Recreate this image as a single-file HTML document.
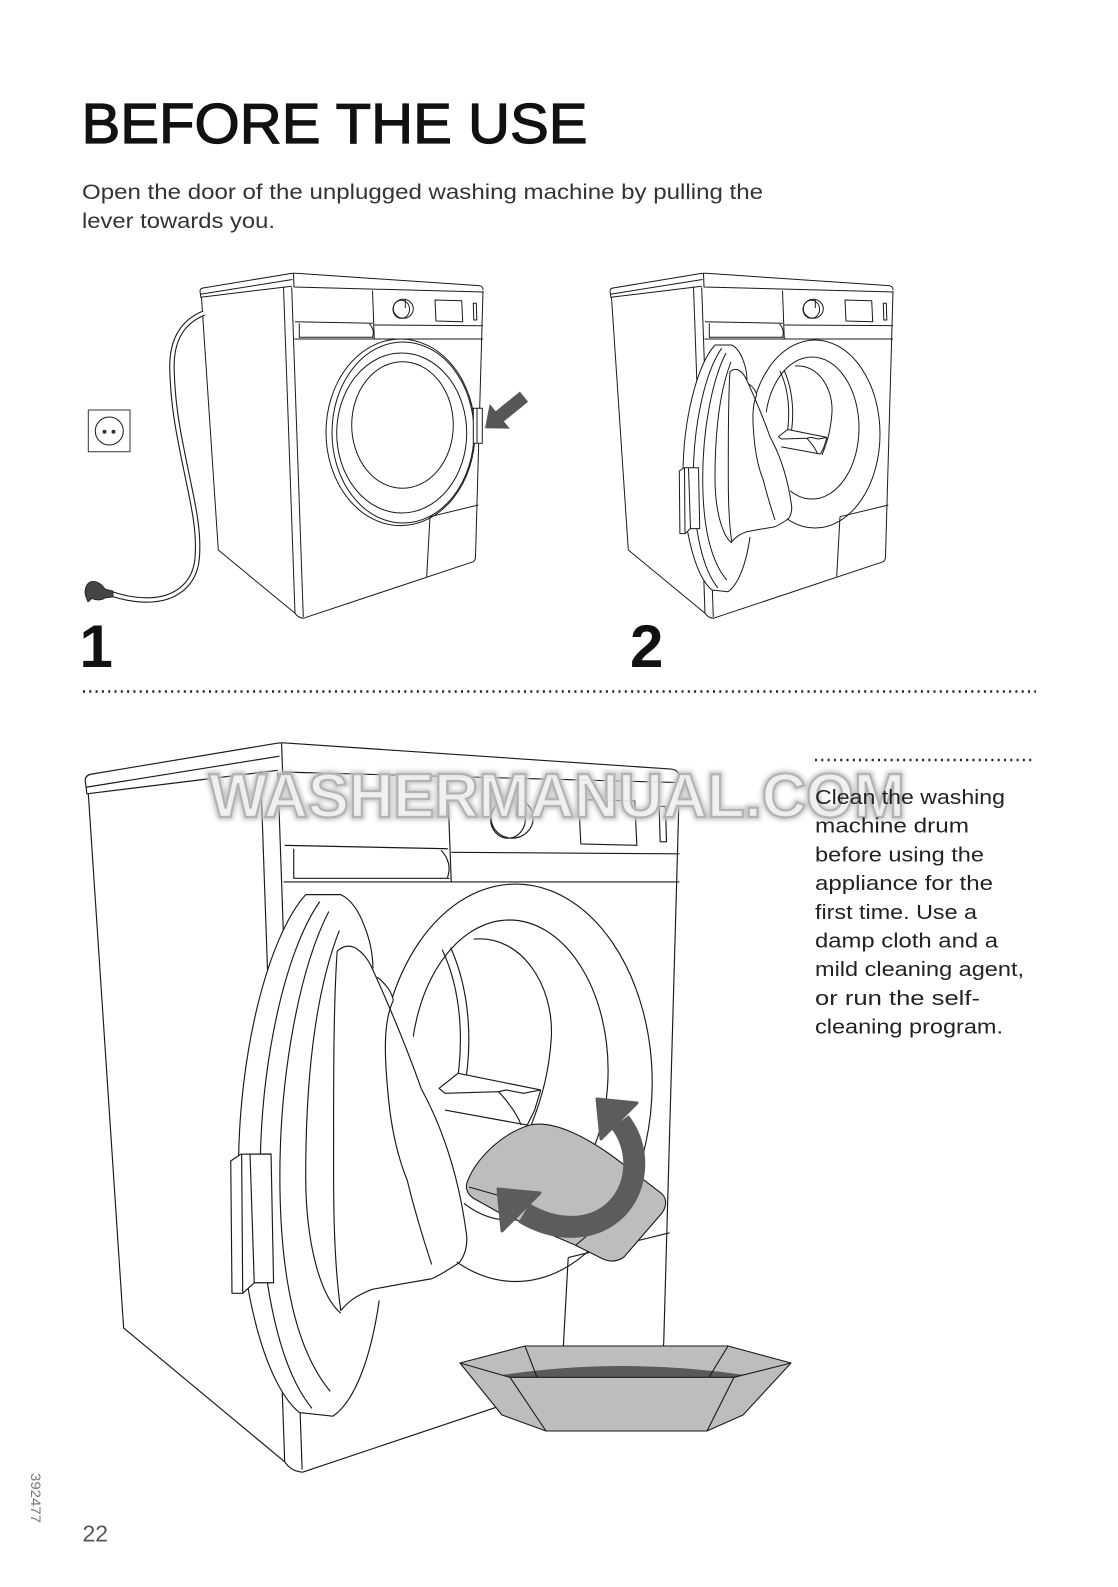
<!DOCTYPE html>
<html><head><meta charset="utf-8"><style>html,body{margin:0;padding:0;background:#fff}svg{display:block}</style></head>
<body>
<svg xmlns="http://www.w3.org/2000/svg" xmlns:xlink="http://www.w3.org/1999/xlink" width="1118" height="1587" viewBox="0 0 1118 1587" font-family="'Liberation Sans', sans-serif">
<rect width="1118" height="1587" fill="#fff"/>
<defs>
<filter id="wmb" x="-5%" y="-30%" width="110%" height="160%"><feGaussianBlur stdDeviation="2"/></filter>
<g id="body">
<path d="M610,291 Q610,288.5 613,288 L700,273.6 Q703,273 706,273.3 L889,285.6 Q893,286 893,290"/>
<path d="M610,291 L610.8,297.3 L701.7,286.2"/>
<path d="M610.4,294.2 L702.5,279.5"/>
<path d="M703.5,273.5 L704,287 L893,292"/>
<path d="M611.5,297.5 L628.3,550 L705,613.3"/>
<path d="M693.5,286.5 L705,613.3 Q708,617.8 713.5,618.2 L883,561.8 Q885.5,560.5 885.5,556.5 L893,291"/>
<path d="M701.7,287.3 L713.3,617"/>
<path d="M705,321.7 L782.7,323.3"/>
<path d="M709.3,323.3 L709.3,337.3 L783.5,337.3"/>
<path d="M779.5,324 Q785,330 782.5,337"/>
<path d="M782.5,290.5 L784.3,339"/>
<path d="M784.3,325 L893,325.7"/>
<path d="M704.5,339 L893,339"/>
<ellipse cx="813.3" cy="308.8" rx="10" ry="9.5"/>
<ellipse cx="811.3" cy="309.3" rx="8.3" ry="9"/>
<path d="M815.3,299.5 L815.3,308"/>
<path d="M845,300 L871.7,300.7 L872.7,321.7 L846,321 Z"/>
<path d="M883.3,303.3 L886.3,303.3 L886.8,320 L883.8,320 Z"/>
<path d="M840,516.7 L888.3,505 M840,516.7 L836.7,576.7"/>
</g>
<g id="open">
<ellipse cx="815" cy="434" rx="65" ry="94"/>
<ellipse cx="812" cy="428" rx="47" ry="71"/>
<path d="M795,366 C818,364 833,388 832,412 C831,428 828,440 822,455"/>
<path d="M780,371 C789,390 791,415 786,440"/>
<path d="M784,370 C793,390 795,415 790,440"/>
<path fill="#fff" d="M787.6,429.5 L826.9,437.4 L825,446 L820.5,454 L781.3,446.9 L778.5,436.6 Z" stroke="none"/>
<path d="M787.6,429.5 L826.9,437.4 M787.6,429.5 L778.5,436.6 L781.3,439 L806.8,438.2 L810.5,437.4 L818.7,439 L826.9,437.4 M781.3,446.9 L820.5,454 M806.8,438.2 L810.3,442.1 L813.9,446.9 L816.6,451.6 L817.5,454 M826.9,437.4 L824,447 L820.5,454"/>
<path fill="#fff" stroke="none" d="M715,345 C697,365 683,420 683,475 C683,535 697,578 712,590 L728,591.7 C738,585 746,565 750,537 L746,531.7 L775,526.7 C783,524 789,520 791.7,507 C791,480 780,440 770,420 C763,405 755,390 747,380 C746,372 742,360 740,355 C737,350 734,346 731.7,345 Z"/>
<path d="M715,345 C697,365 683,420 683,475 C683,535 697,578 712,590 L728,591.7 C738,585 746,565 750,537"/>
<path d="M715,345 L731.7,345 C736,347 740,352 743,360 C745,365 747,372 747,380"/>
<path d="M721.7,348.3 C705,372 693.3,425 693.3,478 C693.3,530 703,570 718,588"/>
<path d="M726,353 C712,380 702.7,430 702.7,478 C702.7,525 710,560 726.7,580"/>
<path d="M731,362 C720,390 715,430 715,478 C715,510 722,535 731.7,543"/>
<path d="M730,371.7 C728,400 728.3,440 728.3,480 C728.3,510 730,530 731.7,541.7 C735,538 738,535 746.7,531.7 L760,529.3 L775,526.7"/>
<path d="M730,371.7 C733,369 736,369 738.3,370 C742,372 745,376 746.7,380"/>
<path d="M746.7,380 C755,398 764,420 770,436.7 C780,455 788,478 791.7,506.7 C792,514 789,519 786.7,520 C782,523 779,525 775,526.7"/>
<path d="M756.7,395 C752,405 752,420 755,446.7 C757,462 760,472 763.3,480 C767,495 771,508 775,520"/>
<path d="M749,384 C753,387 756,391 756.7,395"/>
<path fill="#fff" d="M679.3,471 L684,467.8 L698.5,467.7 L699.7,528.6 L690.5,528.6 L685,533.6 L679.9,533.6 Z"/>
<path d="M684.5,468 L685,533.6 M688.5,468 L690.5,528.6"/>
</g>
</defs>

<!-- Title & intro -->
<text x="81.5" y="143" font-size="57" fill="#111" stroke="#111" stroke-width="1.2" textLength="506" lengthAdjust="spacingAndGlyphs">BEFORE THE USE</text>
<text x="82" y="199" font-size="21" fill="#333" textLength="681" lengthAdjust="spacingAndGlyphs">Open the door of the unplugged washing machine by pulling the</text>
<text x="82" y="228" font-size="21" fill="#333" textLength="193" lengthAdjust="spacingAndGlyphs">lever towards you.</text>

<!-- Machine 1 -->
<g fill="none" stroke="#1a1a1a" stroke-width="1" stroke-linejoin="round">
<use xlink:href="#body" href="#body" transform="translate(-410,0)"/>
<ellipse cx="400.5" cy="432.3" rx="74.5" ry="93.3"/>
<ellipse cx="403" cy="432.5" rx="71" ry="90.5"/>
<ellipse cx="401.7" cy="433" rx="65" ry="80"/>
<ellipse cx="402.5" cy="425" rx="50.8" ry="63.3"/>
<rect x="473.3" y="408.3" width="9" height="35" fill="#fff"/>
<path d="M477,408.3 L477,443.3"/>
<path d="M204,313 C182,322 171,340 172,370 C173,410 180,440 186,470 C192,500 200,530 197,560 C194,585 175,600 147,600 C130,600 118,596 112,594" stroke-width="5.5"/>
<path d="M204,313 C182,322 171,340 172,370 C173,410 180,440 186,470 C192,500 200,530 197,560 C194,585 175,600 147,600 C130,600 118,596 112,594" stroke="#fff" stroke-width="3.3"/>
<rect x="88.3" y="410" width="41.7" height="41.7" stroke="#333"/>
<circle cx="109.3" cy="431" r="14"/>
</g>
<circle cx="104.5" cy="431.7" r="2" fill="#333"/>
<circle cx="113.5" cy="431.7" r="2" fill="#333"/>
<path d="M113,591 L105,589 C101,583 95,580 90,582 C85,585 84,592 86,597 L88,602 L92,598.5 C96,600.5 101,600.5 105,598 L113,597 Z" fill="#444" stroke="#222" stroke-width="0.8"/>
<polygon points="485,428.3 509.9,428.7 503.9,421.4 528.1,401.8 519.9,391.6 495.7,411.2 489.7,403.9" fill="#575757"/>

<!-- Machine 2 -->
<g fill="none" stroke="#1a1a1a" stroke-width="1" stroke-linejoin="round">
<use xlink:href="#body" href="#body"/>
<use xlink:href="#open" href="#open"/>
</g>

<!-- numbers -->
<text x="79.5" y="667" font-size="60" font-weight="bold" fill="#111">1</text>
<text x="630" y="667" font-size="60" font-weight="bold" fill="#111">2</text>

<!-- dotted separators -->
<line x1="83" y1="691.5" x2="1036" y2="691.5" stroke="#222" stroke-width="2.4" stroke-dasharray="2 4.3"/>
<line x1="815" y1="760" x2="1033" y2="760" stroke="#222" stroke-width="2.4" stroke-dasharray="2 4.3"/>

<!-- Big machine -->
<g fill="none" stroke="#1a1a1a" stroke-width="0.55" stroke-linejoin="round" transform="matrix(2.1,0,0,2.114,-1195.8,165.3)">
<use xlink:href="#body" href="#body"/>
<use xlink:href="#open" href="#open"/>
</g>

<!-- cloth -->
<path fill="#bdbdbd" stroke="#1a1a1a" stroke-width="1.1" d="M468,1180 C476,1160 500,1134 530,1125 C553,1120 585,1136 615,1158 L661,1193 C667,1198 667,1206 662,1213 L624,1257 C617,1262 610,1262 603,1259 L575,1245 L498,1212 L473,1198 C466,1193 465,1186 468,1180 Z"/>
<path fill="none" stroke="#1a1a1a" stroke-width="1.1" d="M469,1187 L497,1195 M576,1245 C600,1225 625,1200 640,1178"/>
<!-- rotation arrow -->
<path d="M620,1122 C642,1150 638,1192 612,1213 C590,1231 556,1232 524,1213" stroke="#5c5c5c" stroke-width="22" fill="none"/>
<path d="M597,1099 L637,1103 L601,1139 Z" fill="#5c5c5c" stroke="#5c5c5c" stroke-width="3" stroke-linejoin="round"/>
<path d="M498,1189 L540,1193 L502,1231 Z" fill="#5c5c5c" stroke="#5c5c5c" stroke-width="3" stroke-linejoin="round"/>

<!-- bowl -->
<path fill="#bdbdbd" stroke="#1a1a1a" stroke-width="1.1" stroke-linejoin="round" d="M460,1363 L525,1346 L728,1346 L791,1363 L743,1415 L707,1431 L546,1431 L502,1415 Z"/>
<path fill="#5a5a5a" d="M502,1375 Q623,1357 745,1375 L734,1377.3 L510,1377.3 Z"/>
<path fill="none" stroke="#1a1a1a" stroke-width="1.1" stroke-linejoin="round" d="M460,1363 L510,1377.3 L734,1377.3 L791,1363 M510,1377.3 L546,1431 M734,1377.3 L707,1431 M525,1346 L537,1377.3 M728,1346 L709,1377.3"/>

<!-- watermark -->
<text x="209" y="817" font-size="62" font-weight="bold" textLength="696" lengthAdjust="spacingAndGlyphs" fill="none" stroke="#c8c8c8" stroke-width="6" filter="url(#wmb)">WASHERMANUAL.COM</text>
<text x="209" y="817" font-size="62" font-weight="bold" textLength="696" lengthAdjust="spacingAndGlyphs" fill="#f3f3f3" fill-opacity="0.85" stroke="#b3b3b3" stroke-width="2.2">WASHERMANUAL.COM</text>

<!-- right paragraph -->
<g font-size="20" fill="#222">
<text x="815" y="804" textLength="190" lengthAdjust="spacingAndGlyphs">Clean the washing</text>
<text x="815" y="832.7" textLength="154" lengthAdjust="spacingAndGlyphs">machine drum</text>
<text x="815" y="861.4" textLength="169" lengthAdjust="spacingAndGlyphs">before using the</text>
<text x="815" y="890.1" textLength="178" lengthAdjust="spacingAndGlyphs">appliance for the</text>
<text x="815" y="918.8" textLength="162" lengthAdjust="spacingAndGlyphs">first time. Use a</text>
<text x="815" y="947.5" textLength="183" lengthAdjust="spacingAndGlyphs">damp cloth and a</text>
<text x="815" y="976.2" textLength="209" lengthAdjust="spacingAndGlyphs">mild cleaning agent,</text>
<text x="815" y="1004.9" textLength="165" lengthAdjust="spacingAndGlyphs">or run the self-</text>
<text x="815" y="1033.6" textLength="188" lengthAdjust="spacingAndGlyphs">cleaning program.</text>
</g>

<!-- footer -->
<text x="82.5" y="1541.5" font-size="23" fill="#555">22</text>
<text transform="translate(31,1473) rotate(90)" font-size="13.5" fill="#777" textLength="50" lengthAdjust="spacingAndGlyphs">392477</text>
</svg>
</body></html>
